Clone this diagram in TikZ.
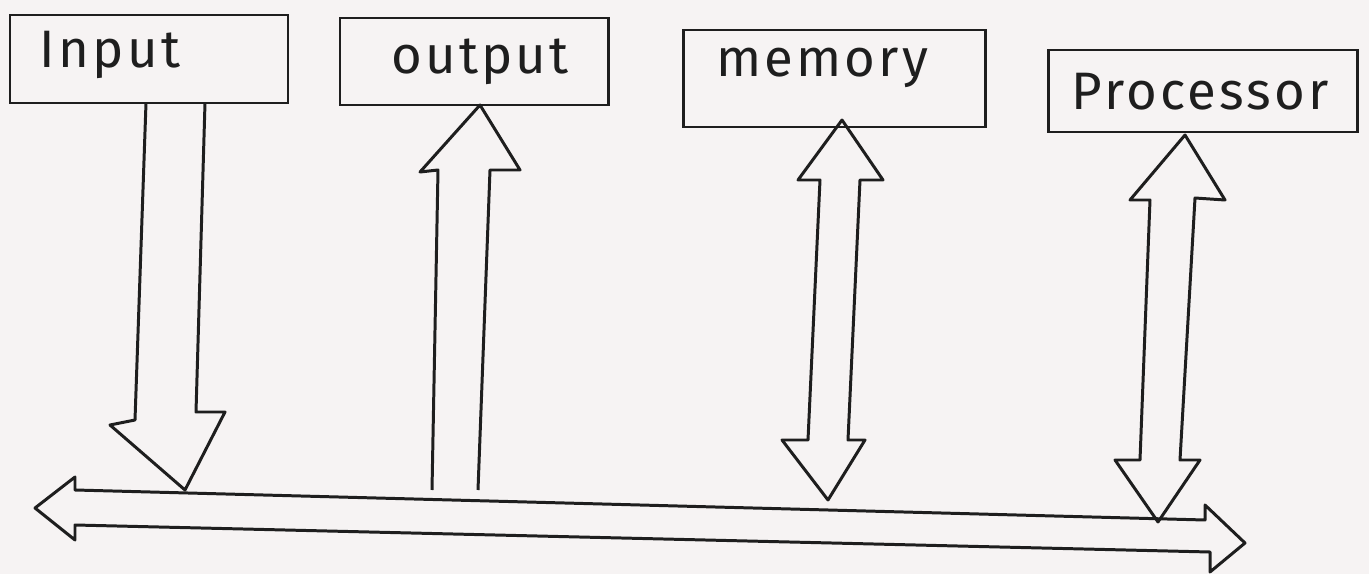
\documentclass[tikz,border=0pt]{standalone}
\usepackage{fontspec}
\setmainfont{Fira Sans}[LetterSpace=6]
\definecolor{paper}{RGB}{246,243,243}
\definecolor{ink}{RGB}{30,30,30}
\tikzset{
  lbl/.style={draw=ink,line width=1.7pt,rectangle,inner sep=0pt},
  lbltext/.style={font=\fontsize{30}{34}\selectfont,text=ink},
  blockarrow/.style={draw=ink,line width=1.7pt,line join=round}
}
\begin{document}
\begin{tikzpicture}[x=0.02cm,y=-0.02cm]
\fill[paper] (0,0) rectangle (1369,574);
\useasboundingbox (0,0) rectangle (1369,574);
% boxes
\node[lbl,minimum width=278*0.02cm,minimum height=88*0.02cm] (in) at (149,59) {};
\node[lbltext] (intext) at (110,55) {Input};
\node[lbl,minimum width=268*0.02cm,minimum height=87*0.02cm] (out) at (474,61.5) {};
\node[lbltext] (outtext) at (480,62) {output};
\node[lbl,minimum width=302*0.02cm,minimum height=97*0.02cm] (mem) at (834,78.5) {};
\node[lbltext] (memtext) at (822,68) {memory};
\node[lbl,minimum width=309*0.02cm,minimum height=82*0.02cm] (proc) at (1202.5,91) {};
\node[lbltext] (proctext) at (1200,92) {Processor};
% input arrow (down)
\draw[blockarrow] (146,103) -- (135,420) -- (110,425) -- (185,490) -- (225,412) -- (196,412) -- (205,103);
% output arrow (up)
\draw[blockarrow] (432,490) -- (438,170) -- (420,172) -- (480,105) -- (520,170) -- (490,170) -- (478,490);
% memory double arrow
\draw[blockarrow] (842,120) -- (798,180) -- (820,180) -- (808,440) -- (782,440) -- (828,500) -- (865,440) -- (848,440) -- (860,180) -- (883,180) -- cycle;
% processor double arrow
\draw[blockarrow] (1185,135) -- (1130,200) -- (1150,200) -- (1140,460) -- (1115,460) -- (1158,522) -- (1200,460) -- (1180,460) -- (1195,198) -- (1225,200) -- cycle;
% bus
\draw[blockarrow] (35,508) -- (75,477) -- (75,490) -- (1205,520) -- (1205,505) -- (1245,543) -- (1210,572) -- (1210,552) -- (75,525) -- (75,540) -- cycle;
\end{tikzpicture}
\end{document}
